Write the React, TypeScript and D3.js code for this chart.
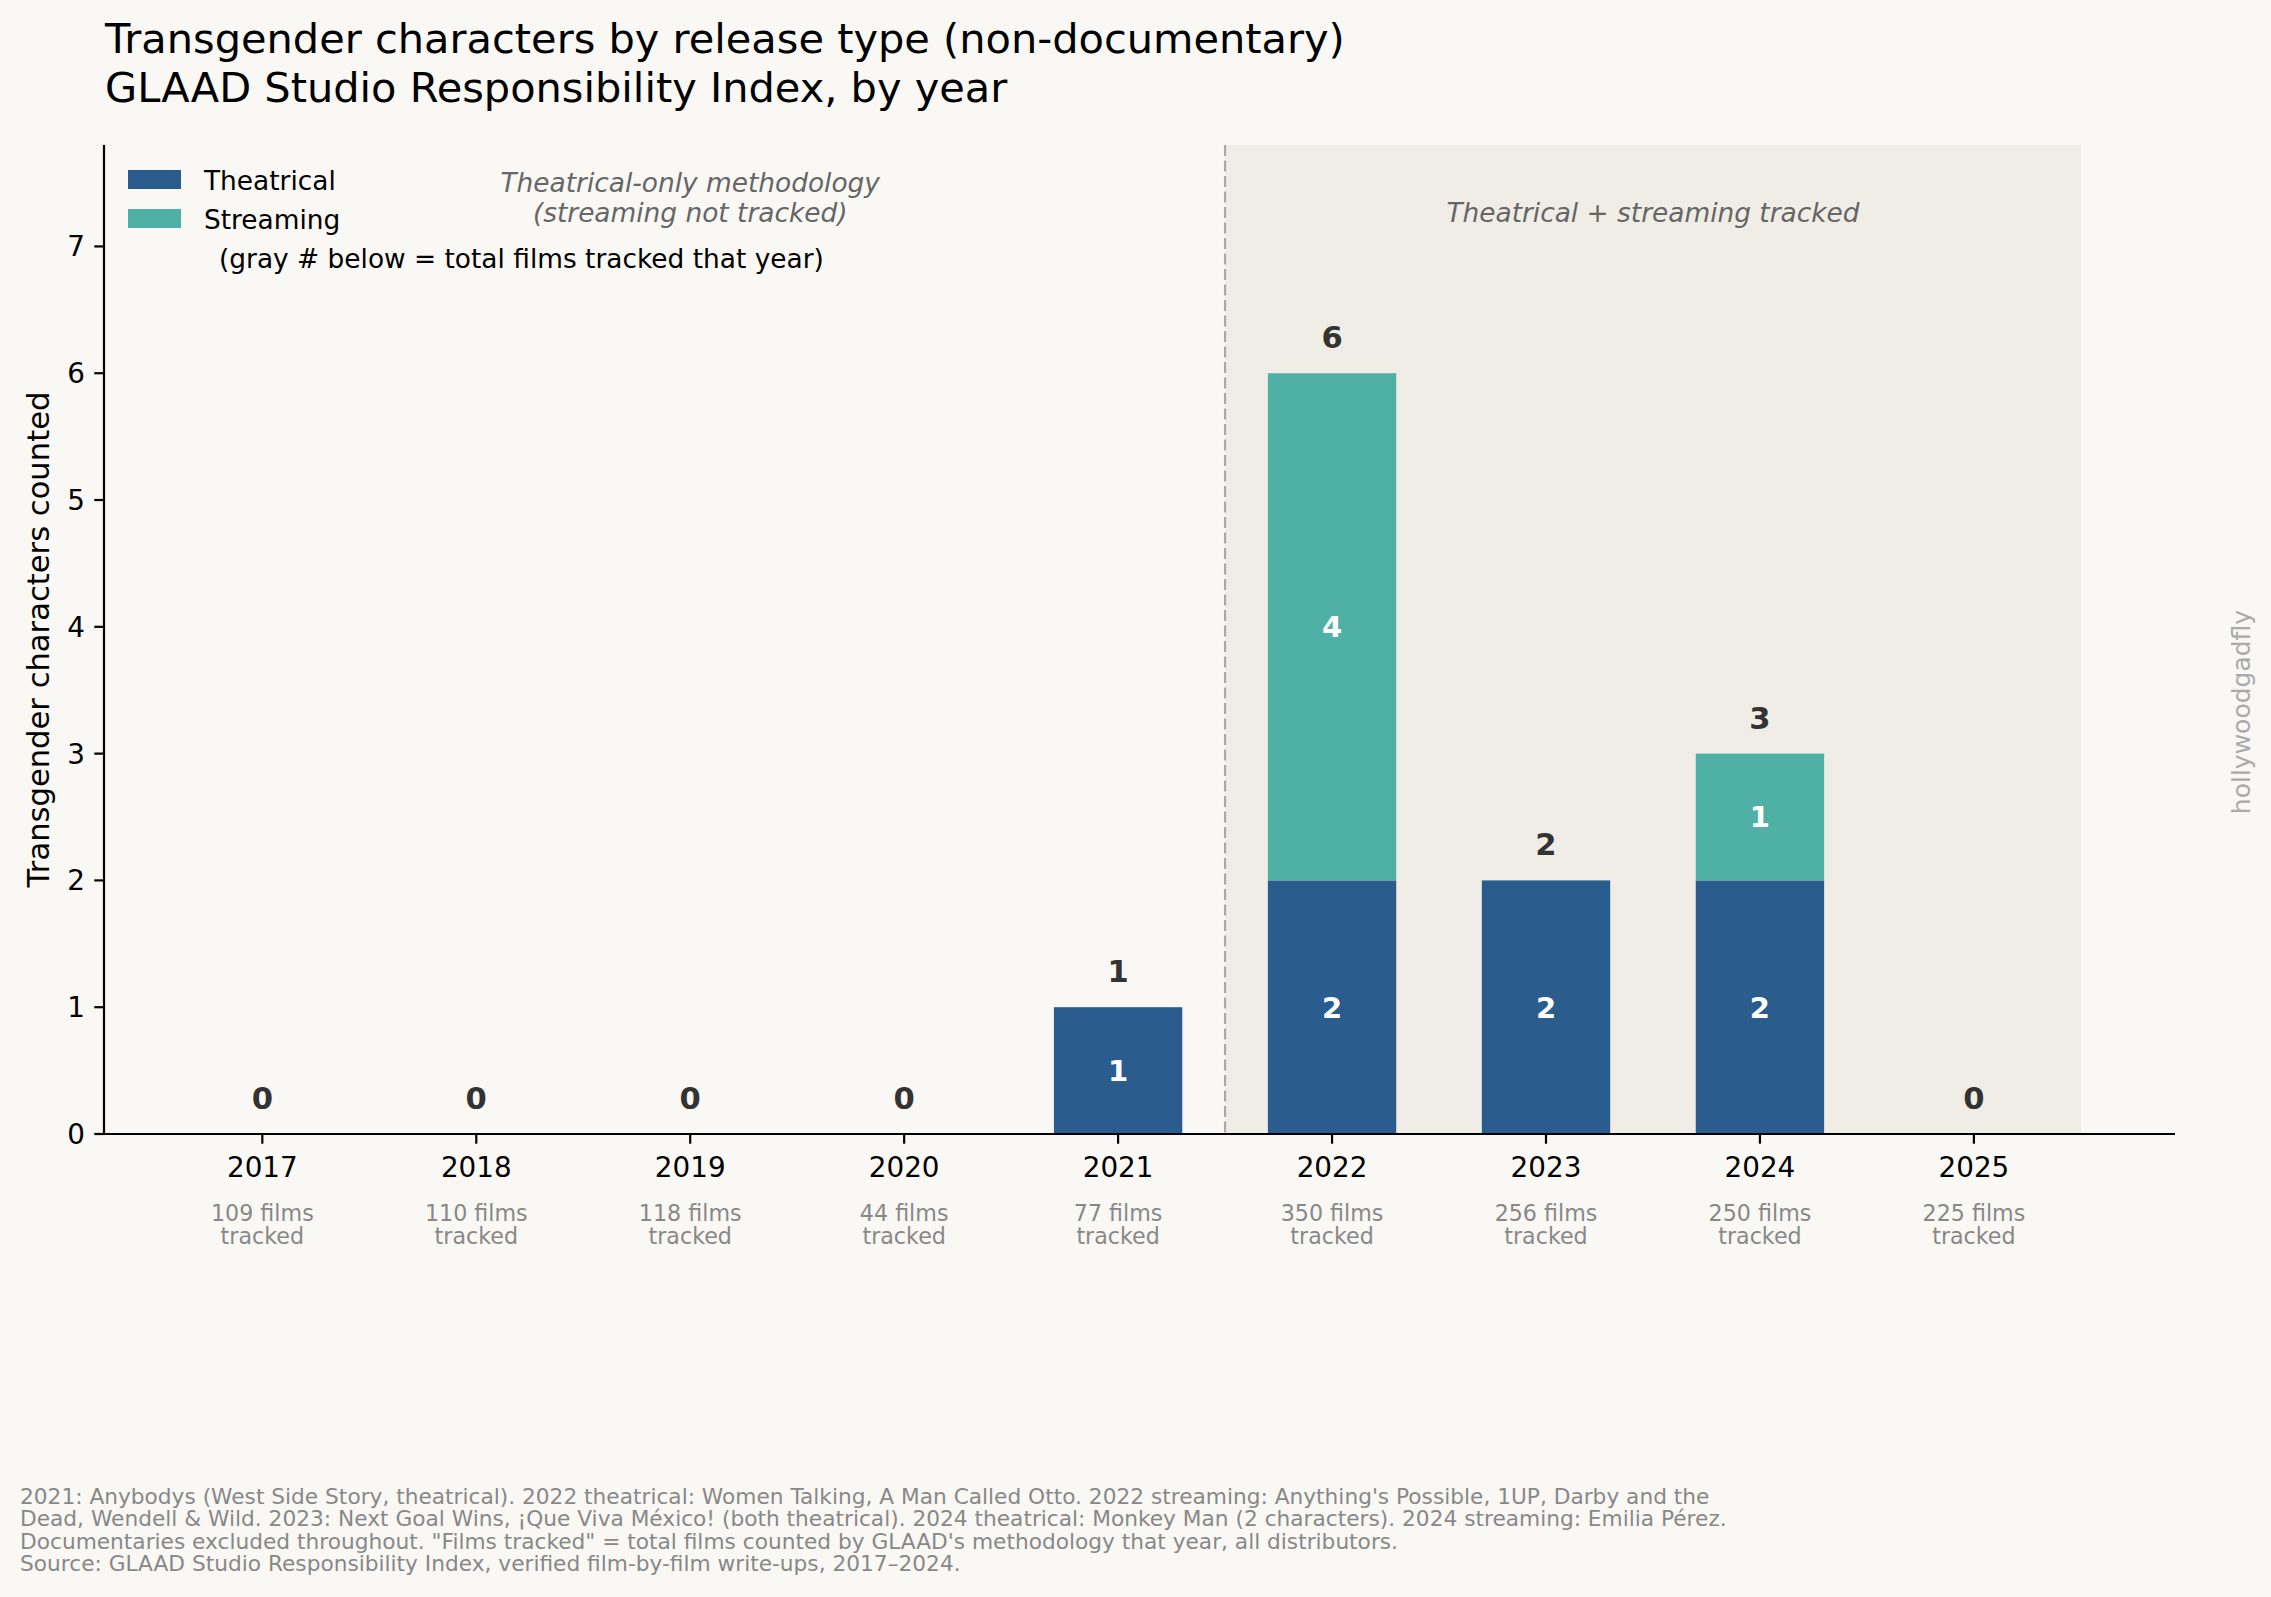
import * as d3 from "d3";

const years = ["2017", "2018", "2019", "2020", "2021", "2022", "2023", "2024", "2025"];
const theatrical = [0, 0, 0, 0, 1, 2, 2, 2, 0];
const streaming = [0, 0, 0, 0, 0, 4, 0, 1, 0];
const filmsTracked = [109, 110, 118, 44, 77, 350, 256, 250, 225];
const yTicks = [0, 1, 2, 3, 4, 5, 6, 7];

const footnote = [
  "2021: Anybodys (West Side Story, theatrical). 2022 theatrical: Women Talking, A Man Called Otto. 2022 streaming: Anything's Possible, 1UP, Darby and the",
  "Dead, Wendell & Wild. 2023: Next Goal Wins, ¡Que Viva México! (both theatrical). 2024 theatrical: Monkey Man (2 characters). 2024 streaming: Emilia Pérez.",
  "Documentaries excluded throughout. \"Films tracked\" = total films counted by GLAAD's methodology that year, all distributors.",
  "Source: GLAAD Studio Responsibility Index, verified film-by-film write-ups, 2017–2024.",
];

const W = 2271;
const H = 1597;
const BG = "#f9f8f5";
const SHADE = "#f0ede6";
const C_THEA = "#2a5c8d";
const C_STREAM = "#4fb0a5";
const FONT = "'DejaVu Sans', Verdana, sans-serif";

const plot = { left: 104, right: 2175, top: 145, bottom: 1134 };

export default function App() {
  const x = d3.scaleLinear().domain([-0.74, 8.94]).range([plot.left, plot.right]);
  const y = d3.scaleLinear().domain([0, 7.8]).range([plot.bottom, plot.top]);
  const barW = x(0.6) - x(0);

  const stack = d3
    .stack<number>()
    .keys(["theatrical", "streaming"])
    .value((i, key) => (key === "theatrical" ? theatrical[i] : streaming[i]));
  const series = stack(years.map((_, i) => i));
  const colors = [C_THEA, C_STREAM];

  return (
    <>
      <style>{`body{margin:0;background:${BG}}`}</style>
      <svg width={W} height={H} style={{ display: "block", fontFamily: FONT }}>
        <rect width={W} height={H} fill={BG} />

        {/* title */}
        <text x={105} y={53} fontSize={41.5} fill="#000">
          Transgender characters by release type (non-documentary)
        </text>
        <text x={105} y={102} fontSize={41.5} fill="#000">
          GLAAD Studio Responsibility Index, by year
        </text>

        {/* tracked-streaming shaded era */}
        <rect
          x={x(4.5)}
          y={plot.top}
          width={x(8.5) - x(4.5)}
          height={plot.bottom - plot.top}
          fill={SHADE}
        />
        <line
          x1={x(4.5)}
          x2={x(4.5)}
          y1={plot.top}
          y2={plot.bottom}
          stroke="#aaa"
          strokeWidth={2.2}
          strokeDasharray="11,4.5"
        />

        {/* bars */}
        {series.map((s, k) =>
          s.map((d, i) =>
            d[1] - d[0] > 0 ? (
              <g key={`${k}-${i}`}>
                <rect
                  x={x(i) - barW / 2}
                  y={y(d[1])}
                  width={barW}
                  height={y(d[0]) - y(d[1])}
                  fill={colors[k]}
                />
                <text
                  x={x(i)}
                  y={y((d[0] + d[1]) / 2)}
                  dy="0.36em"
                  textAnchor="middle"
                  fontSize={29}
                  fontWeight="bold"
                  fill="#fff"
                >
                  {d[1] - d[0]}
                </text>
              </g>
            ) : null
          )
        )}

        {/* totals */}
        {years.map((_, i) => (
          <text
            key={`t${i}`}
            x={x(i)}
            y={y(theatrical[i] + streaming[i]) - 25}
            textAnchor="middle"
            fontSize={30.6}
            fontWeight="bold"
            fill="#333"
          >
            {theatrical[i] + streaming[i]}
          </text>
        ))}

        {/* era annotations */}
        <text x={x(2)} y={192} textAnchor="middle" fontSize={26.4} fontStyle="italic" fill="#666">
          Theatrical-only methodology
        </text>
        <text x={x(2)} y={222} textAnchor="middle" fontSize={26.4} fontStyle="italic" fill="#666">
          (streaming not tracked)
        </text>
        <text x={x(6.5)} y={222} textAnchor="middle" fontSize={26.4} fontStyle="italic" fill="#666">
          Theatrical + streaming tracked
        </text>

        {/* legend */}
        <rect x={128} y={170} width={53} height={19} fill={C_THEA} />
        <rect x={128} y={209} width={53} height={19} fill={C_STREAM} />
        <text x={204} y={190} fontSize={26.4} fill="#000">
          Theatrical
        </text>
        <text x={204} y={229} fontSize={26.4} fill="#000">
          Streaming
        </text>
        <text x={219} y={268} fontSize={26.4} fill="#000">
          (gray # below = total films tracked that year)
        </text>

        {/* y axis */}
        <line x1={plot.left} x2={plot.left} y1={plot.top} y2={plot.bottom + 1} stroke="#000" strokeWidth={2.2} />
        {yTicks.map((t) => (
          <g key={`y${t}`} transform={`translate(${plot.left},${y(t)})`}>
            <line x1={-9.7} x2={0} stroke="#000" strokeWidth={2.2} />
            <text x={-19} dy="0.36em" textAnchor="end" fontSize={27.8} fill="#000">
              {t}
            </text>
          </g>
        ))}
        <text
          transform={`translate(38,${(plot.top + plot.bottom) / 2}) rotate(-90)`}
          textAnchor="middle"
          dominantBaseline="central"
          fontSize={30.6}
          fill="#000"
        >
          Transgender characters counted
        </text>

        {/* x axis */}
        <line x1={plot.left - 1} x2={plot.right} y1={plot.bottom} y2={plot.bottom} stroke="#000" strokeWidth={2.2} />
        {years.map((yr, i) => (
          <g key={`x${yr}`} transform={`translate(${x(i)},${plot.bottom})`}>
            <line y1={0} y2={9.7} stroke="#000" strokeWidth={2.2} />
            <text y={43} textAnchor="middle" fontSize={27.8} fill="#000">
              {yr}
            </text>
            <text y={87} textAnchor="middle" fontSize={22.2} fill="#888">
              {filmsTracked[i]} films
            </text>
            <text y={110} textAnchor="middle" fontSize={22.2} fill="#888">
              tracked
            </text>
          </g>
        ))}

        {/* watermark */}
        <text
          transform="translate(2241,712) rotate(-90)"
          textAnchor="middle"
          dominantBaseline="central"
          fontSize={25}
          fill="#aaa"
        >
          hollywoodgadfly
        </text>

        {/* footnote */}
        {footnote.map((line, i) => (
          <text key={`f${i}`} x={20} y={1504 + i * 22.3} fontSize={21.7} fill="#888">
            {line}
          </text>
        ))}
      </svg>
    </>
  );
}
